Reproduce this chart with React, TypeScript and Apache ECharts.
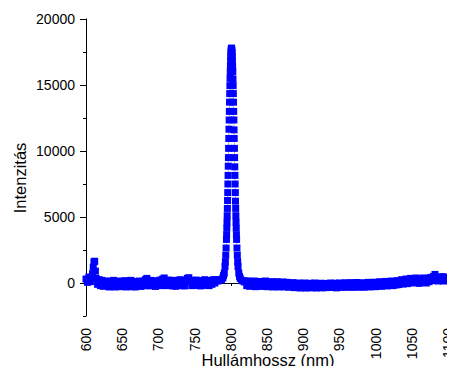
import React, { useEffect, useRef } from 'react';
import * as echarts from 'echarts';

// Baseline samples (nm grid: start + 2*i)
const leftStart = 600;
const rightStart = 820;
const baseStep = 2;

// 600 ... 782
const leftIntensity = [
  300, 50, 450, 100, 450, 1200, 1650, 350, -100, 250,
  -200, 200, -250, 150, -200, 100, -300, 150, -200, 200,
  -300, 100, -250, 150, -280, 80, -200, 180, -300, 50,
  -220, 200, -280, 120, -300, 100, -200, 150, -260, 120,
  -200, 250, 350, 100, -220, 200, -180, 150, -260, 150,
  -180, 220, -200, 300, 380, 100, -200, 220, -150, 200,
  -220, 150, -250, 200, -150, 250, -200, 150, -220, 200,
  350, 400, 100, -200, 200, -180, 220, -150, 180, -220,
  150, -180, 250, -150, 180, -200, 200, -100, 250, 0,
  250, 150,
];

// extra samples of the small line near 610 nm
const spikeWavelength = [609, 611, 613];
const spikeIntensity = [700, 1600, 900];

// main emission peak
const peakWavelength = [
  785, 787, 789, 790, 791, 792, 792.5, 793, 793.5, 794, 794.25, 794.5, 794.75,
  795, 795.25, 795.5, 795.75, 796, 796.25, 796.5, 796.75, 797, 797.25, 797.5, 797.75,
  798, 798.25, 798.5, 798.75, 799, 799.25, 799.5, 799.75, 800, 800.25, 800.5, 800.75,
  801, 801.25, 801.5, 801.75, 802, 802.25, 802.5, 802.75, 803, 803.25, 803.5, 803.75,
  804, 804.25, 804.5, 804.75, 805, 805.25, 805.5, 805.75, 806, 806.25, 806.5, 806.75,
  807, 807.25, 807.5, 807.75, 808, 808.5, 809, 809.5, 810, 811, 812, 813, 815, 817, 819,
];
const peakIntensity = [
  250, 220, 380, 560, 750, 1250, 1600, 2100, 2650, 3300, 3650, 4150, 4600,
  5100, 5650, 6250, 6850, 7500, 8150, 8850, 9500, 10200, 10950, 11650, 12350,
  13000, 13700, 14350, 14950, 15500, 16000, 16450, 16850, 17200, 17450, 17650, 17750,
  17800, 17750, 17600, 17450, 17150, 16850, 16400, 16000, 15450, 14950, 14350, 13700,
  13000, 12350, 11600, 10950, 10200, 9500, 8800, 8150, 7500, 6850, 6200, 5650,
  5100, 4600, 4150, 3650, 3300, 2650, 2100, 1600, 1250, 750, 500, 350, 200, 150, 80,
];

// 820 ... 1100
const rightIntensity = [
  150, -200, 150, -250, 100, -200, 150, -280, 100, -220,
  120, -260, 80, -180, 150, -280, 50, -220, 100, -300,
  50, -250, 100, -300, 0, -250, 80, -300, -50, 50,
  -320, -50, -280, 30, -350, -80, -300, 0, -380, -100,
  -330, 0, -380, -100, -350, -20, -360, -150, 0, -380,
  -100, -330, -20, -370, -120, -30, -350, -100, -320, 0,
  -340, -100, -20, -370, -120, 0, -330, -80, -300, 20,
  -320, -80, -280, 30, -330, -60, -280, 40, -320, -80,
  -280, 20, -320, -50, -250, 50, -300, -30, -250, 60,
  -280, 0, -220, 100, -250, 30, -200, 120, -220, 50,
  -180, 150, -200, 100, -150, 180, -120, 150, 250, -80,
  200, 300, -50, 250, 350, 0, 300, 50, 380, 120,
  -30, 300, 50, 380, 150, 0, 350, 100, 420, 200,
  500, 650, 300, 150, 450, 200, 480, 150, 450, 200,
  400,
];

const yLabelValues = [0, 5000, 10000, 15000, 20000];

const FONT = "'Liberation Sans', Arial, sans-serif";

function buildData(): [number, number][] {
  const pts: [number, number][] = [];
  leftIntensity.forEach((v, i) => pts.push([leftStart + i * baseStep, v]));
  spikeWavelength.forEach((x, i) => pts.push([x, spikeIntensity[i]]));
  peakWavelength.forEach((x, i) => pts.push([x, peakIntensity[i]]));
  rightIntensity.forEach((v, i) => pts.push([rightStart + i * baseStep, v]));
  pts.sort((a, b) => a[0] - b[0]);
  return pts;
}

export default function App() {
  const ref = useRef<HTMLDivElement>(null);
  useEffect(() => {
    if (!ref.current) return;
    const chart = echarts.init(ref.current, undefined, { renderer: 'svg' });
    const data = buildData();
    const axisColor = '#000';
    chart.setOption({
      animation: false,
      backgroundColor: '#fff',
      grid: { left: 86, right: 4, top: 19, bottom: 58, containLabel: false },
      xAxis: {
        type: 'value',
        min: 600,
        max: 1100,
        interval: 50,
        axisLine: { show: true, lineStyle: { color: axisColor, width: 1 } },
        axisTick: { show: true, length: 3, lineStyle: { color: axisColor } },
        minorTick: { show: true, splitNumber: 2, length: 2, lineStyle: { color: axisColor } },
        axisLabel: {
          rotate: 90,
          margin: 12,
          fontSize: 14,
          color: '#000',
          fontFamily: FONT,
          formatter: (v: number) => String(v),
        },
        splitLine: { show: false },
      },
      yAxis: [
        {
          type: 'value',
          min: -2500,
          max: 20000,
          interval: 2500,
          axisLine: { show: true, lineStyle: { color: axisColor, width: 1 } },
          axisTick: { show: true, length: 3, lineStyle: { color: axisColor } },
          axisLabel: {
            margin: 11,
            fontSize: 14,
            color: '#000',
            fontFamily: FONT,
            formatter: (v: number) => (yLabelValues.indexOf(v) >= 0 ? String(v) : ''),
          },
          splitLine: { show: false },
        },
        {
          type: 'value',
          min: -2500,
          max: 20000,
          interval: 2500,
          position: 'left',
          axisLine: { show: false },
          axisTick: { show: true, length: 6, customValues: yLabelValues, lineStyle: { color: axisColor } },
          axisLabel: { show: false },
          splitLine: { show: false },
        },
      ],
      graphic: [
        {
          type: 'text',
          x: 268,
          y: 360,
          style: {
            text: 'Hullámhossz (nm)',
            fontSize: 16.5,
            fontFamily: FONT,
            fill: '#000',
            textAlign: 'center',
            textVerticalAlign: 'middle',
          },
        },
        {
          type: 'text',
          x: 19.5,
          y: 178,
          rotation: Math.PI / 2,
          style: {
            text: 'Intenzitás',
            fontSize: 16.5,
            fontFamily: FONT,
            fill: '#000',
            textAlign: 'center',
            textVerticalAlign: 'middle',
          },
        },
      ],
      series: [
        {
          type: 'line',
          data,
          yAxisIndex: 0,
          showSymbol: false,
          lineStyle: { color: '#999', width: 0.7 },
          silent: true,
          z: 1,
        },
        {
          type: 'scatter',
          data,
          yAxisIndex: 0,
          symbol: 'rect',
          symbolSize: [7, 7],
          itemStyle: { color: '#0000ff', opacity: 1, borderWidth: 0 },
          silent: true,
          z: 2,
        },
      ],
    });
    return () => chart.dispose();
  }, []);
  return <div ref={ref} style={{ width: 455, height: 374, margin: -8 }} />;
}
